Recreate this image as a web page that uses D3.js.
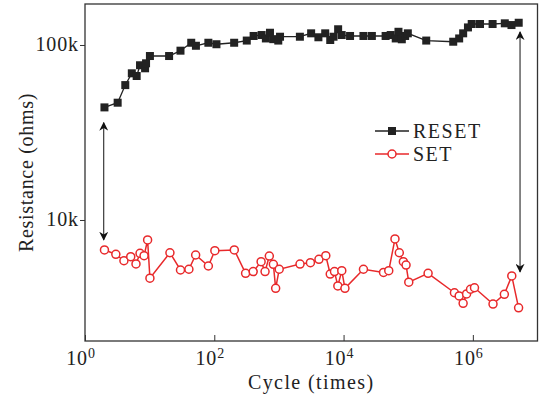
<!DOCTYPE html>
<html>
<head>
<meta charset="utf-8">
<script src="https://cdn.jsdelivr.net/npm/d3@7"></script>
<style>
  body { margin: 0; background: #fff; }
  text { font-family: "Liberation Serif", "DejaVu Serif", serif; fill: #222; }
</style>
</head>
<body>
<svg id="chart"></svg>
<script>
// cycles and resistance (ohms)
const resetCycles = [2, 3.2, 4.2, 5.3, 6.3, 7.1, 8.5, 8.8, 10.1, 20, 30, 44, 52, 81, 108, 203, 318, 406, 540, 628, 727, 818, 977, 1040,
  2110, 3150, 4080, 5200, 6220, 6990, 8240, 9350, 12600, 20300, 27400, 44700, 53600, 64100, 70700, 79600, 89600, 98600,
  190000, 497000, 614000, 708000, 840000, 960000, 1290000, 2020000, 3120000, 3960000, 5120000];
const resetOhms = [44000, 46800, 59000, 68900, 66500, 76600, 73600, 78600, 86500, 86500, 92800, 103000, 99000, 103000, 101000, 103000,
  106000, 112600, 114000, 109000, 117500, 108000, 106000, 111500,
  111500, 116600, 110700, 116600, 106800, 111500, 123000, 114000, 112600, 112600, 112600, 112600, 114000, 109000, 119000, 107800, 112600, 116600,
  106000, 104400, 109000, 116600, 126000, 131800, 131800, 131800, 133000, 130000, 134000];

const setCycles = [2, 3, 4, 5.1, 6.15, 7.1, 8.2, 9.3, 10.1, 20.6, 30, 40.5, 51.5, 81, 102, 204, 305, 400, 530, 610, 710, 820, 890, 1010,
  2120, 3070, 4160, 5310, 6220, 7230, 8150, 9380, 10500, 20300, 41500, 50000, 62400, 72800, 84100, 92600, 102000,
  203000, 519000, 614000, 707000, 800000, 920000, 1060000, 2050000, 3070000, 4000000, 5100000];
const setOhms = [6740, 6370, 5850, 6170, 5610, 6450, 6250, 7690, 4650, 6500, 5180, 5230, 6310, 5460, 6680, 6740, 4960, 5070, 5780, 5070, 6220, 5580, 4070, 5230,
  5600, 5700, 5960, 6250, 4910, 5070, 4200, 5130, 4070, 5230, 5020, 5130, 7790, 6500, 5780, 5530, 4410,
  4960, 3840, 3680, 3340, 3780, 4020, 4100, 3310, 3760, 4790, 3150];

const xTicks = [1, 100, 10000, 1000000];
const xTickExp = ["0", "2", "4", "6"];
const yTicks = [10000, 100000];
const yTickLabels = ["10k", "100k"];

// double arrows: [cycle, low ohms, high ohms]
const arrows = [[1.95, 7700, 36000], [5370000, 5050, 118700]];

const W = 542, H = 396;
const m = { left: 85, right: 4.5, top: 4, bottom: 55 };
const fs = 20, ls = 0.9;

const svg = d3.select("#chart").attr("width", W).attr("height", H);

const x = d3.scaleLog().domain([1, 1e7]).range([m.left, W - m.right]);
const y = d3.scaleLog().domain([2035, 171500]).range([H - m.bottom, m.top]);

const defs = svg.append("defs");
defs.append("marker")
  .attr("id", "head")
  .attr("viewBox", "0 0 10 10")
  .attr("refX", 9).attr("refY", 5)
  .attr("markerWidth", 9).attr("markerHeight", 9)
  .attr("markerUnits", "userSpaceOnUse")
  .attr("orient", "auto-start-reverse")
  .append("path")
  .attr("d", "M0,0 L10,5 L0,10 L3,5 Z")
  .attr("fill", "#111");

// axes
const xAxis = d3.axisBottom(x).tickValues(xTicks).tickSize(-6).tickFormat("");
svg.append("g")
  .attr("transform", "translate(0," + (H - m.bottom) + ")")
  .call(xAxis)
  .call(g => g.select(".domain").remove())
  .call(g => g.selectAll("line").attr("stroke", "#333"));

const yAxis = d3.axisLeft(y).tickValues(yTicks).tickSize(5).tickFormat("");
svg.append("g")
  .attr("transform", "translate(" + m.left + ",0)")
  .call(yAxis)
  .call(g => g.select(".domain").remove())
  .call(g => g.selectAll("line").attr("stroke", "#333"));

svg.append("rect")
  .attr("x", m.left).attr("y", m.top)
  .attr("width", W - m.right - m.left).attr("height", H - m.bottom - m.top)
  .attr("fill", "none").attr("stroke", "#333").attr("stroke-width", 1.3);

// tick labels
const xl = svg.append("g").selectAll("text").data(xTicks).enter().append("text")
  .attr("x", d => x(d) - 4)
  .attr("y", H - m.bottom + 24)
  .attr("text-anchor", "middle")
  .attr("font-size", fs)
  .attr("letter-spacing", ls);
xl.append("tspan").text("10");
xl.append("tspan").attr("dy", -7).attr("font-size", 14).text((d, i) => xTickExp[i]);

svg.append("g").selectAll("text").data(yTicks).enter().append("text")
  .attr("x", m.left - 6)
  .attr("y", d => y(d) + 6)
  .attr("text-anchor", "end")
  .attr("font-size", fs)
  .attr("letter-spacing", ls)
  .text((d, i) => yTickLabels[i]);

svg.append("text")
  .attr("x", (m.left + W - m.right) / 2)
  .attr("y", H - 7)
  .attr("text-anchor", "middle")
  .attr("font-size", fs)
  .attr("letter-spacing", 1.4)
  .text("Cycle (times)");

svg.append("text")
  .attr("transform", "translate(33," + ((m.top + H - m.bottom) / 2) + ") rotate(-90)")
  .attr("text-anchor", "middle")
  .attr("font-size", fs)
  .attr("letter-spacing", 0.7)
  .text("Resistance (ohms)");

// arrows
svg.append("g").selectAll("line").data(arrows).enter().append("line")
  .attr("x1", d => x(d[0])).attr("x2", d => x(d[0]))
  .attr("y1", d => y(d[1])).attr("y2", d => y(d[2]))
  .attr("stroke", "#111").attr("stroke-width", 1)
  .attr("marker-start", "url(#head)").attr("marker-end", "url(#head)");

// series
const line = d3.line().x(d => x(d[0])).y(d => y(d[1]));
const resetData = resetCycles.map((c, i) => [c, resetOhms[i]]);
const setData = setCycles.map((c, i) => [c, setOhms[i]]);

svg.append("path").datum(resetData).attr("d", line)
  .attr("fill", "none").attr("stroke", "#222").attr("stroke-width", 1.3);
svg.append("g").selectAll("rect").data(resetData).enter().append("rect")
  .attr("x", d => x(d[0]) - 4).attr("y", d => y(d[1]) - 4)
  .attr("width", 8).attr("height", 8)
  .attr("fill", "#222");

svg.append("path").datum(setData).attr("d", line)
  .attr("fill", "none").attr("stroke", "#e8292b").attr("stroke-width", 1.5);
svg.append("g").selectAll("circle").data(setData).enter().append("circle")
  .attr("cx", d => x(d[0])).attr("cy", d => y(d[1]))
  .attr("r", 4)
  .attr("fill", "#fff").attr("stroke", "#e8292b").attr("stroke-width", 1.5);

// legend
const legend = svg.append("g").attr("transform", "translate(375,131)");
legend.append("line").attr("x1", 0).attr("x2", 34).attr("stroke", "#222").attr("stroke-width", 1.3);
legend.append("rect").attr("x", 13).attr("y", -4).attr("width", 8).attr("height", 8).attr("fill", "#222");
legend.append("text").attr("x", 38).attr("y", 6.5).attr("font-size", fs).attr("letter-spacing", 1.5).text("RESET");
legend.append("line").attr("x1", 0).attr("x2", 34).attr("y1", 23).attr("y2", 23).attr("stroke", "#e8292b").attr("stroke-width", 1.5);
legend.append("circle").attr("cx", 17).attr("cy", 23).attr("r", 4).attr("fill", "#fff").attr("stroke", "#e8292b").attr("stroke-width", 1.5);
legend.append("text").attr("x", 38).attr("y", 29.5).attr("font-size", fs).attr("letter-spacing", 1.5).text("SET");
</script>
</body>
</html>
